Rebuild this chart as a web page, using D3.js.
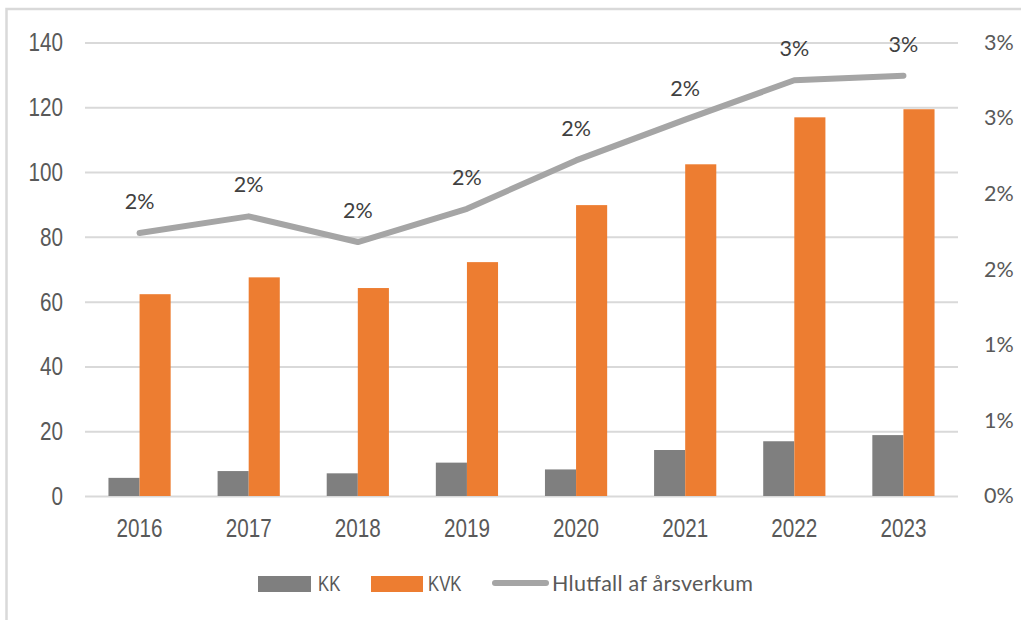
<!DOCTYPE html>
<html>
<head>
<meta charset="utf-8">
<script src="https://cdn.jsdelivr.net/npm/d3@7"></script>
<style>
  body { margin: 0; background: #fff; }
  svg { display: block; }
  .narrow { font-family: 'Liberation Sans', Arial, sans-serif; transform-box: fill-box; transform: scaleX(0.78); }
</style>
</head>
<body>
<div id="container"></div>
<script>
const years = ["2016", "2017", "2018", "2019", "2020", "2021", "2022", "2023"];
const kk = [5.6, 7.7, 7.0, 10.3, 8.2, 14.2, 16.9, 18.8];
const kvk = [62.3, 67.5, 64.2, 72.2, 89.8, 102.4, 116.9, 119.4];
const share = [0.0174, 0.0185, 0.0168, 0.0190, 0.0222, 0.0249, 0.0275, 0.0278];
const shareLabels = ["2%", "2%", "2%", "2%", "2%", "2%", "3%", "3%"];
const leftTicks = [0, 20, 40, 60, 80, 100, 120, 140];
const rightTicks = [0, 0.005, 0.01, 0.015, 0.02, 0.025, 0.03];
const rightTickLabels = ["0%", "1%", "1%", "2%", "2%", "3%", "3%"];
const seriesNames = ["KK", "KVK", "Hlutfall af årsverkum"];

const width = 1021;
const height = 620;
const plotLeft = 85;
const plotRight = 958;
const plotTop = 42.5;
const plotBottom = 496;

const calibriLike = "Lato, 'Open Sans', sans-serif";

const svg = d3.select("#container").append("svg")
    .attr("width", width)
    .attr("height", height);

// chart frame (runs off the picture on the right and bottom)
svg.append("rect")
    .attr("x", 6.5)
    .attr("y", 9)
    .attr("width", 1100)
    .attr("height", 700)
    .attr("fill", "none")
    .attr("stroke", "#d9d9d9")
    .attr("stroke-width", 2.5);

const x = d3.scaleBand()
    .domain(years)
    .range([plotLeft, plotRight])
    .paddingInner(0.43)
    .paddingOuter(0.215);

const sub = d3.scaleBand()
    .domain(["KK", "KVK"])
    .range([0, x.bandwidth()]);

const y = d3.scaleLinear().domain([0, 140]).range([plotBottom, plotTop]);
const yR = d3.scaleLinear().domain([0, 0.03]).range([plotBottom, plotTop]);

// gridlines
svg.append("g")
    .attr("transform", `translate(${plotLeft},0)`)
    .call(d3.axisLeft(y).tickValues(leftTicks).tickSize(-(plotRight - plotLeft)).tickFormat(""))
    .call(g => g.select(".domain").remove())
    .call(g => g.selectAll("line").attr("stroke", "#d9d9d9").attr("stroke-width", 2));

// left axis
svg.append("g")
    .attr("transform", `translate(${plotLeft},0)`)
    .call(d3.axisLeft(y).tickValues(leftTicks).tickSize(0).tickPadding(22))
    .call(g => g.select(".domain").remove())
    .call(g => g.selectAll("text")
        .attr("class", "narrow")
        .attr("fill", "#595959")
        .style("font-size", "26.5px")
        .style("transform-origin", "right center"));

// right axis
svg.append("g")
    .attr("transform", `translate(${plotRight},0)`)
    .call(d3.axisRight(yR).tickValues(rightTicks).tickSize(0).tickPadding(26)
        .tickFormat((d, i) => rightTickLabels[i]))
    .call(g => g.select(".domain").remove())
    .call(g => g.selectAll("text")
        .attr("fill", "#595959")
        .style("font-family", calibriLike)
        .style("font-size", "21.5px"));

// bottom axis
svg.append("g")
    .attr("transform", `translate(0,${plotBottom})`)
    .call(d3.axisBottom(x).tickSize(0).tickPadding(22))
    .call(g => g.select(".domain").remove())
    .call(g => g.selectAll("text")
        .attr("class", "narrow")
        .attr("fill", "#595959")
        .style("font-size", "26.5px")
        .style("transform-origin", "center"));

// bars
const groups = svg.append("g").selectAll("g")
    .data(years)
    .join("g")
    .attr("transform", d => `translate(${x(d)},0)`);

groups.append("rect")
    .attr("x", sub("KK"))
    .attr("width", sub.bandwidth())
    .attr("y", (d, i) => y(kk[i]))
    .attr("height", (d, i) => y(0) - y(kk[i]))
    .attr("fill", "#7f7f7f");

groups.append("rect")
    .attr("x", sub("KVK"))
    .attr("width", sub.bandwidth())
    .attr("y", (d, i) => y(kvk[i]))
    .attr("height", (d, i) => y(0) - y(kvk[i]))
    .attr("fill", "#ed7d31");

// share line
const cx = d => x(d) + x.bandwidth() / 2;
const line = d3.line()
    .x((d, i) => cx(years[i]))
    .y(d => yR(d));

svg.append("path")
    .datum(share)
    .attr("d", line)
    .attr("fill", "none")
    .attr("stroke", "#a5a5a5")
    .attr("stroke-width", 6)
    .attr("stroke-linejoin", "round")
    .attr("stroke-linecap", "round");

svg.append("g").selectAll("text")
    .data(share)
    .join("text")
    .attr("x", (d, i) => cx(years[i]))
    .attr("y", d => yR(d) - 24)
    .attr("text-anchor", "middle")
    .attr("fill", "#404040")
    .style("font-family", calibriLike)
    .style("font-size", "21.5px")
    .text((d, i) => shareLabels[i]);

// legend
const legend = svg.append("g");
const legendBase = 591;

legend.append("rect").attr("x", 258).attr("y", 576).attr("width", 53).attr("height", 16).attr("fill", "#7f7f7f");
legend.append("text").attr("x", 318).attr("y", legendBase).text(seriesNames[0])
    .attr("class", "narrow").attr("fill", "#595959")
    .style("font-size", "21.5px").style("transform-origin", "left center");

legend.append("rect").attr("x", 371).attr("y", 576).attr("width", 52).attr("height", 16).attr("fill", "#ed7d31");
legend.append("text").attr("x", 428).attr("y", legendBase).text(seriesNames[1])
    .attr("class", "narrow").attr("fill", "#595959")
    .style("font-size", "21.5px").style("transform-origin", "left center");

legend.append("line").attr("x1", 495).attr("x2", 546).attr("y1", 583).attr("y2", 583)
    .attr("stroke", "#a5a5a5").attr("stroke-width", 6).attr("stroke-linecap", "round");
legend.append("text").attr("x", 552).attr("y", legendBase).text(seriesNames[2])
    .attr("fill", "#595959").style("font-family", calibriLike).style("font-size", "21.5px")
    .attr("textLength", 201).attr("lengthAdjust", "spacing");
</script>
</body>
</html>
